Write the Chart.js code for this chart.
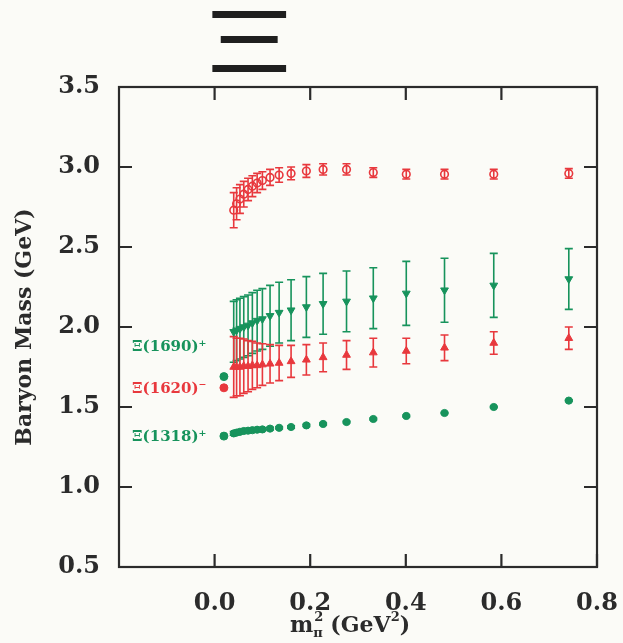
<!DOCTYPE html>
<html>
<head>
<meta charset="utf-8">
<script src="https://cdn.jsdelivr.net/npm/chart.js@4.4.0/dist/chart.umd.min.js"></script>
<style>
  html, body { margin: 0; padding: 0; background: #fbfbf7; }
  #wrap { width: 623px; height: 643px; position: relative; }
</style>
</head>
<body>
<div id="wrap"><canvas id="c"></canvas></div>
<script>
// ---------- data ----------
const mpi2 = [0.040, 0.046, 0.053, 0.061, 0.070, 0.079, 0.089, 0.100, 0.116, 0.135,
              0.160, 0.192, 0.227, 0.276, 0.332, 0.401, 0.481, 0.584, 0.741];

// upper red open circles
const highMass = [2.73, 2.77, 2.80, 2.83, 2.86, 2.88, 2.90, 2.915, 2.935, 2.95,
                  2.96, 2.975, 2.985, 2.985, 2.965, 2.955, 2.955, 2.955, 2.96];
const highErr  = [0.11, 0.10, 0.09, 0.08, 0.07, 0.065, 0.06, 0.055, 0.05, 0.045,
                  0.04, 0.04, 0.035, 0.035, 0.03, 0.03, 0.03, 0.03, 0.03];

// green down triangles
const xi1690Mass = [1.97, 1.98, 1.99, 2.00, 2.01, 2.025, 2.04, 2.05, 2.07, 2.09,
                    2.105, 2.125, 2.145, 2.16, 2.18, 2.21, 2.23, 2.26, 2.30];
const xi1690Err  = [0.19, 0.19, 0.19, 0.19, 0.19, 0.19, 0.19, 0.19, 0.19, 0.19,
                    0.19, 0.19, 0.19, 0.19, 0.19, 0.20, 0.20, 0.20, 0.19];

// red up triangles
const xi1620Mass = [1.75, 1.75, 1.75, 1.755, 1.755, 1.76, 1.76, 1.765, 1.77, 1.775,
                    1.785, 1.795, 1.81, 1.825, 1.84, 1.85, 1.87, 1.90, 1.93];
const xi1620Err  = [0.19, 0.18, 0.18, 0.17, 0.16, 0.15, 0.14, 0.13, 0.12, 0.11,
                    0.10, 0.095, 0.09, 0.09, 0.09, 0.08, 0.08, 0.07, 0.07];

// green filled circles (ground state)
const xi1318Mass = [1.335, 1.34, 1.345, 1.35, 1.352, 1.355, 1.358, 1.36, 1.365, 1.37,
                    1.375, 1.385, 1.394, 1.406, 1.425, 1.444, 1.4625, 1.50, 1.54];
const xi1318Err  = [0.012, 0.011, 0.010, 0.010, 0.009, 0.009, 0.008, 0.008, 0.008, 0.007,
                    0.007, 0.007, 0.006, 0.006, 0.006, 0.006, 0.005, 0.005, 0.005];

// experimental values at the physical pion mass
const physX = 0.0195;
const physMass = [1.690, 1.620, 1.318];
const physNames = ['Ξ(1690)⁺', 'Ξ(1620)⁻', 'Ξ(1318)⁺'];
const physLabelY = [1.875, 1.61, 1.31];

const xTicks = [0.0, 0.2, 0.4, 0.6, 0.8];
const yTicks = [0.5, 1.0, 1.5, 2.0, 2.5, 3.0, 3.5];

// ---------- styles ----------
const RED = '#e8383d';
const GREEN = '#17935c';
const INK = '#2b2b2b';
const SERIF = '"DejaVu Serif", serif';

const pts = (ys) => mpi2.map((x, i) => ({ x, y: ys[i] }));

// error bars drawn from dataset.errors through the chart scales
const errorBars = {
  id: 'errorBars',
  beforeDatasetsDraw(chart) {
    const { ctx, scales: { x, y } } = chart;
    chart.data.datasets.forEach((ds) => {
      if (!ds.errors) return;
      ctx.save();
      ctx.strokeStyle = ds.borderColor;
      ctx.lineWidth = 1.6;
      ds.data.forEach((p, i) => {
        const e = ds.errors[i];
        const px = x.getPixelForValue(p.x);
        const top = y.getPixelForValue(p.y + e);
        const bot = y.getPixelForValue(p.y - e);
        ctx.beginPath();
        ctx.moveTo(px, top); ctx.lineTo(px, bot);
        ctx.moveTo(px - 4, top); ctx.lineTo(px + 4, top);
        ctx.moveTo(px - 4, bot); ctx.lineTo(px + 4, bot);
        ctx.stroke();
      });
      ctx.restore();
    });
  }
};

// boxed frame with inward ticks on all four sides
const frame = {
  id: 'frame',
  afterDraw(chart) {
    const { ctx, chartArea: a, scales: { x, y } } = chart;
    const L = 13;
    ctx.save();
    ctx.strokeStyle = INK;
    ctx.lineWidth = 2.2;
    ctx.strokeRect(a.left, a.top, a.right - a.left, a.bottom - a.top);
    ctx.beginPath();
    xTicks.forEach(v => {
      const px = x.getPixelForValue(v);
      ctx.moveTo(px, a.bottom); ctx.lineTo(px, a.bottom - L);
      ctx.moveTo(px, a.top); ctx.lineTo(px, a.top + L);
    });
    yTicks.forEach(v => {
      const py = y.getPixelForValue(v);
      ctx.moveTo(a.left, py); ctx.lineTo(a.left + L, py);
      ctx.moveTo(a.right, py); ctx.lineTo(a.right - L, py);
    });
    ctx.stroke();
    ctx.restore();
  }
};

// state labels next to the physical points, x-axis title, and the big Ξ heading
const annotations = {
  id: 'annotations',
  afterDraw(chart) {
    const { ctx, chartArea: a, scales: { x, y } } = chart;
    ctx.save();
    ctx.font = 'bold 15px ' + SERIF;
    ctx.textAlign = 'right';
    ctx.textBaseline = 'middle';
    physNames.forEach((t, i) => {
      ctx.fillStyle = i === 1 ? RED : GREEN;
      ctx.fillText(t, x.getPixelForValue(-0.017), y.getPixelForValue(physLabelY[i]));
    });

    // m_pi^2 (GeV^2)
    const big = 'bold 22px ' + SERIF, small = 'bold 13px ' + SERIF;
    ctx.textAlign = 'left';
    ctx.textBaseline = 'alphabetic';
    ctx.fillStyle = INK;
    ctx.font = big;
    const wm = ctx.measureText('m').width;
    const wrest = ctx.measureText(' (GeV)').width;
    ctx.font = small;
    const ws = Math.max(ctx.measureText('π').width, ctx.measureText('2').width);
    const w2 = ctx.measureText('2').width;
    const total = wm + ws + wrest + w2;
    let cx = (a.left + a.right) / 2 - total / 2 - 8;
    const base = 632;
    ctx.font = big; ctx.fillText('m', cx, base); cx += wm;
    ctx.font = small; ctx.fillText('2', cx + 1, base - 11); ctx.fillText('π', cx, base + 5); cx += ws;
    ctx.font = big; ctx.fillText(' (GeV', cx, base); cx += ctx.measureText(' (GeV').width;
    ctx.font = small; ctx.fillText('2', cx, base - 11); cx += w2;
    ctx.font = big; ctx.fillText(')', cx, base);

    // handwritten-looking heading
    ctx.translate(248, 50);
    ctx.scale(2.05, 1.05);
    ctx.font = '80px "DejaVu Sans", sans-serif';
    ctx.textAlign = 'center';
    ctx.textBaseline = 'middle';
    ctx.fillStyle = '#1f1f1f';
    ctx.fillText('Ξ', 0, 0);
    ctx.restore();
  }
};

new Chart(document.getElementById('c'), {
  type: 'scatter',
  data: {
    datasets: [
      {
        label: 'excited',
        data: pts(highMass),
        errors: highErr,
        borderColor: RED,
        backgroundColor: 'rgba(0,0,0,0)',
        pointStyle: 'circle',
        pointRadius: 3.8,
        borderWidth: 1.6,
      },
      {
        label: 'Xi(1690)',
        data: pts(xi1690Mass),
        errors: xi1690Err,
        borderColor: GREEN,
        backgroundColor: GREEN,
        pointStyle: 'triangle',
        rotation: 180,
        pointRadius: 4.5,
        borderWidth: 1,
      },
      {
        label: 'Xi(1620)',
        data: pts(xi1620Mass),
        errors: xi1620Err,
        borderColor: RED,
        backgroundColor: RED,
        pointStyle: 'triangle',
        pointRadius: 4.5,
        borderWidth: 1,
      },
      {
        label: 'Xi(1318)',
        data: pts(xi1318Mass),
        errors: xi1318Err,
        borderColor: GREEN,
        backgroundColor: GREEN,
        pointStyle: 'circle',
        pointRadius: 3.6,
        borderWidth: 1,
      },
      {
        label: 'physical',
        data: physMass.map(y => ({ x: physX, y })),
        borderColor: [GREEN, RED, GREEN],
        backgroundColor: [GREEN, RED, GREEN],
        pointStyle: 'circle',
        pointRadius: 4,
        borderWidth: 1,
      },
    ],
  },
  options: {
    responsive: true,
    maintainAspectRatio: false,
    animation: false,
    layout: { padding: { top: 87, right: 26, left: 0, bottom: 0 } },
    plugins: {
      legend: { display: false },
      tooltip: { enabled: false },
    },
    scales: {
      x: {
        type: 'linear',
        min: -0.2,
        max: 0.8,
        afterFit: (s) => { s.height = 76; s.paddingRight = 0; s.paddingLeft = 0; },
        grid: { display: false, drawTicks: false },
        border: { display: false },
        ticks: {
          stepSize: 0.2,
          padding: 22,
          color: INK,
          font: { family: SERIF, size: 24, weight: 'bold' },
          callback: (v) => (v < -0.1 ? '' : Number(v).toFixed(1)),
        },
      },
      y: {
        min: 0.5,
        max: 3.5,
        afterFit: (s) => { s.width = 119; s.paddingTop = 0; s.paddingBottom = 0; },
        grid: { display: false, drawTicks: false },
        border: { display: false },
        title: {
          display: true,
          text: 'Baryon Mass (GeV)',
          color: INK,
          font: { family: SERIF, size: 22, weight: 'bold' },
          padding: { top: 12, bottom: 0 },
        },
        ticks: {
          stepSize: 0.5,
          padding: 19,
          color: INK,
          font: { family: SERIF, size: 24, weight: 'bold' },
          callback: (v) => Number(v).toFixed(1),
        },
      },
    },
  },
  plugins: [errorBars, frame, annotations],
});
</script>
</body>
</html>
